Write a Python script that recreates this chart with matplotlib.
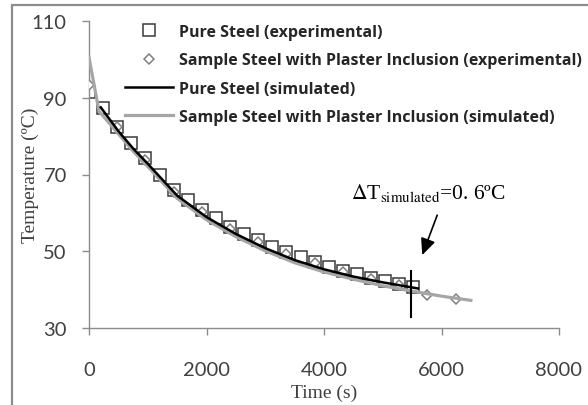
import matplotlib
matplotlib.use("Agg")
import matplotlib.pyplot as plt
from matplotlib.patches import Rectangle

# simulated curves (s, degC)
pure_sim_t = [200, 500, 750, 1000, 1500, 2000, 2500, 3000, 3500, 4000, 4500, 5000, 5600]
pure_sim_T = [87.5, 81.3, 76.8, 72.8, 64.5, 58.9, 54.5, 50.8, 47.7, 45.3, 43.4, 41.9, 40.3]
plaster_sim_t = [0, 170, 500, 750, 1000, 1500, 2000, 2500, 3000, 3500, 4000, 4500, 5000, 5500, 6000, 6500]
plaster_sim_T = [100.5, 86.5, 80.6, 76.1, 72.1, 63.8, 58.2, 53.8, 50.1, 47.0, 44.6, 42.7, 41.0, 39.6, 38.3, 37.2]

# experimental points
pure_exp_t = [0, 240, 480, 720, 960, 1200, 1440, 1680, 1920, 2160, 2400, 2640,
              2880, 3120, 3360, 3600, 3840, 4080, 4320, 4560, 4800, 5040, 5280, 5520]
pure_exp_T = [91.6, 87.2, 82.5, 78.2, 74.2, 69.8, 66.0, 63.4, 60.8, 58.6, 56.2, 54.6,
              52.9, 51.2, 49.8, 48.4, 47.3, 46.0, 44.9, 44.0, 43.1, 42.3, 41.5, 40.7]
plaster_exp_t = [0, 480, 960, 1440, 1920, 2400, 2880, 3360, 3840, 4320, 4800, 5280, 5760, 6240]
plaster_exp_T = [93.2, 82.3, 73.8, 65.5, 60.3, 55.8, 52.4, 49.4, 47.0, 44.6, 42.8, 41.2, 38.5, 37.6]

labels = ["Pure Steel (experimental)",
          "Sample Steel with Plaster Inclusion (experimental)",
          "Pure Steel (simulated)",
          "Sample Steel with Plaster Inclusion (simulated)"]

plt.rcParams['mathtext.fontset'] = 'stix'

fig = plt.figure(figsize=(5.88, 4.06), dpi=100)
ax = fig.add_axes([89/588, 1-329/406, 470/588, 307/406])

h1, = ax.plot(pure_exp_t, pure_exp_T, 's', ms=8, mfc='white', mec='#3a3a3a', mew=1.1, zorder=2)
h2, = ax.plot(plaster_exp_t, plaster_exp_T, 'D', ms=5.5, mfc='white', mec='#7f7f7f', mew=1.1, zorder=3)
h4, = ax.plot(plaster_sim_t, plaster_sim_T, '-', color='#a6a6a6', lw=2.3, zorder=4)
h3, = ax.plot(pure_sim_t, pure_sim_T, '-', color='black', lw=1.8, zorder=5)

# delta T marker and annotation
ax.plot([5480, 5480], [32.8, 44.9], color='black', lw=1.5, zorder=6)
ax.text(5780, 63.9, r'$\Delta$T$_{\mathrm{simulated}}$=0. 6ºC', fontsize=15.5,
        family='Liberation Serif', ha='center', va='baseline')
ax.annotate('', xy=(5672, 49.0), xytext=(5927, 59.4),
            arrowprops=dict(arrowstyle='-|>,head_length=1.0,head_width=0.45', color='black', lw=1.2,
                            shrinkA=0, shrinkB=0))

ax.set_xlim(0, 8000)
ax.set_ylim(30, 110)
ax.set_xticks([0, 2000, 4000, 6000, 8000])
ax.set_yticks([30, 50, 70, 90, 110])
for s in ['top', 'right']:
    ax.spines[s].set_visible(False)
for s in ['left', 'bottom']:
    ax.spines[s].set_color('#8c8c8c')
    ax.spines[s].set_linewidth(1)
ax.tick_params(axis='both', direction='out', length=5, width=1, color='#8c8c8c',
               labelsize=14.5, labelcolor='#404040')
ax.tick_params(axis='x', pad=19)
ax.tick_params(axis='y', pad=11)
for lab in ax.get_xticklabels() + ax.get_yticklabels():
    lab.set_family('Lato')

ax.set_xlabel('Time (s)', family='Liberation Serif', fontsize=14, color='#404040')
ax.set_ylabel('Temperature (ºC)', family='Liberation Serif', fontsize=14, color='#404040')
ax.xaxis.set_label_coords(0.5, (329-385)/307)
ax.yaxis.set_label_coords((30-89)/470, 0.5)
ax.yaxis.label.set_va('center')

leg = ax.legend([h1, h2, h3, h4], labels, loc='upper left', bbox_to_anchor=(125/588, 1-25/406),
                bbox_transform=fig.transFigure, frameon=False, borderpad=0, borderaxespad=0,
                handlelength=3.0, handletextpad=0.4, labelspacing=0.77,
                prop={'family': 'Open Sans', 'weight': 'bold', 'size': 11.5})
for t in leg.get_texts():
    t.set_color('#262626')

# outer chart border
fig.patches.append(Rectangle((12/588, -0.1), 1.2, 1.1 - 6/406, transform=fig.transFigure,
                             fill=False, edgecolor='#8c8c8c', lw=1.6))

fig.savefig('out.png', dpi=100)
